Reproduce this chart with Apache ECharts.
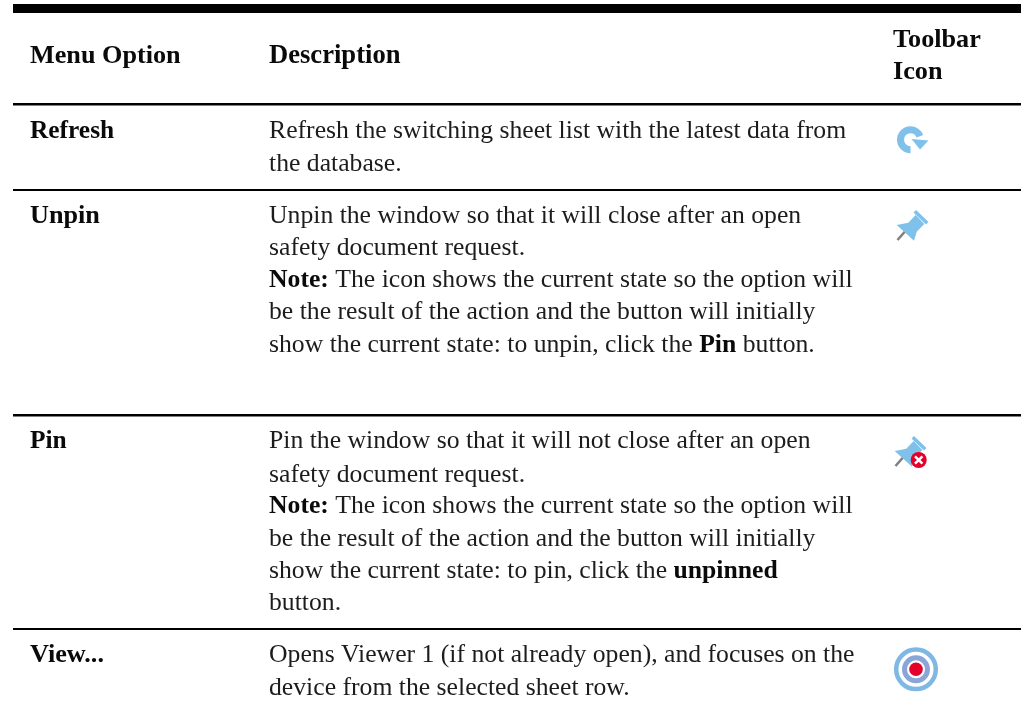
<!DOCTYPE html>
<html><head><meta charset="utf-8">
<style>html,body{margin:0;padding:0;background:#fff}#c{width:1022px;height:709px}</style>
<script src="https://cdn.jsdelivr.net/npm/echarts@6/dist/echarts.min.js"></script>
</head><body><div id="c"></div>
<script>
const headers = ['Menu Option', 'Description', 'Toolbar', 'Icon'];
const options = ['Refresh', 'Unpin', 'Pin', 'View...'];
const refreshLines = ['Refresh the switching sheet list with the latest data from', 'the database.'];
const unpinLines = ['Unpin the window so that it will close after an open', 'safety document request.',
  '{b|Note:} The icon shows the current state so the option will', 'be the result of the action and the button will initially',
  'show the current state: to unpin, click the {b|Pin} button.'];
const pinLines = ['Pin the window so that it will not close after an open', 'safety document request.',
  '{b|Note:} The icon shows the current state so the option will', 'be the result of the action and the button will initially',
  'show the current state: to pin, click the {b|unpinned}', 'button.'];
const viewLines = ['Opens Viewer 1 (if not already open), and focuses on the', 'device from the selected sheet row.'];

const FONT = '"Liberation Serif"', INK = '#1c1c1c', BOLD = '#0a0a0a', SIZE = 25.7, BSIZE = 26.2, BASE = 6.5;
const g = [];
function rule(y, h) { g.push({type:'rect', shape:{x:13,y:y,width:1008,height:h}, style:{fill:'#000'}}); }
function txt(x, baseline, s, bold, size) {
  g.push({type:'text', x:x, y:baseline-BASE, style:{text:s, fill:bold?BOLD:INK, font:(bold?'bold '+(size||BSIZE):SIZE)+'px '+FONT, verticalAlign:'middle', align:'left',
    rich:{b:{font:'bold '+SIZE+'px '+FONT, fill:BOLD, verticalAlign:'middle'}}}});
}
function block(lines, ys) { lines.forEach((l,i)=>txt(269, ys[i], l, false)); }
rule(4,9); rule(103,2.5); rule(189,2); rule(414,2.5); rule(628,2);
txt(30,63,headers[0],true); txt(269,63,headers[1],true,26.6); txt(893,47,headers[2],true); txt(893,79,headers[3],true);
txt(30,138,options[0],true,25.4); txt(30,223,options[1],true); txt(30,448,options[2],true,25.4); txt(30,662,options[3],true);
block(refreshLines,[138,171]);
block(unpinLines,[223,255,287,319,352]);
block(pinLines,[448,482,513,546,578,610]);
block(viewLines,[662,695]);

const BLUE='#7fc1ea';
// refresh icon
g.push({type:'arc', shape:{cx:910.5,cy:139.7,r:10,startAngle:Math.PI/2,endAngle:Math.PI*2-0.35,clockwise:true}, style:{stroke:BLUE,fill:null,lineWidth:7}});
g.push({type:'polygon', shape:{points:[[911.5,139],[928.5,140.5],[920,149.5]]}, style:{fill:BLUE}});
// pin icons
function pin(dx,dy){
  const P = pts => pts.map(p=>[p[0]+dx,p[1]+dy]);
  g.push({type:'line', shape:{x1:905+dx,y1:231.5+dy,x2:897.5+dx,y2:240+dy}, style:{stroke:'#808080',lineWidth:2.6}});
  g.push({type:'polygon', shape:{points:P([[896.7,225],[908.3,222.7],[915.7,215],[924.3,224],[916.7,231.7],[914,240.7]])}, style:{fill:BLUE}});
  g.push({type:'polygon', shape:{points:P([[916,210],[928.5,222],[926,224.5],[913.5,212.5]])}, style:{fill:BLUE}});
}
pin(0,0); pin(-2,226);
g.push({type:'circle', shape:{cx:918.7,cy:460,r:8}, style:{fill:'#e3002b'}});
g.push({type:'line', shape:{x1:915,y1:456.3,x2:922.4,y2:463.7}, style:{stroke:'#fff',lineWidth:2.5}});
g.push({type:'line', shape:{x1:922.4,y1:456.3,x2:915,y2:463.7}, style:{stroke:'#fff',lineWidth:2.5}});
// target icon
g.push({type:'circle', shape:{cx:916,cy:669.3,r:19.8}, style:{fill:null,stroke:'#7fb8e3',lineWidth:4.5}});
g.push({type:'circle', shape:{cx:916,cy:669.3,r:11.5}, style:{fill:null,stroke:'#8aa6d8',lineWidth:5}});
g.push({type:'circle', shape:{cx:916,cy:669.3,r:6.8}, style:{fill:'#e3002b'}});

const chart = echarts.init(document.getElementById('c'), null, {renderer:'canvas'});
chart.setOption({animation:false, backgroundColor:'#fff', graphic:{elements:g}});
</script></body></html>
